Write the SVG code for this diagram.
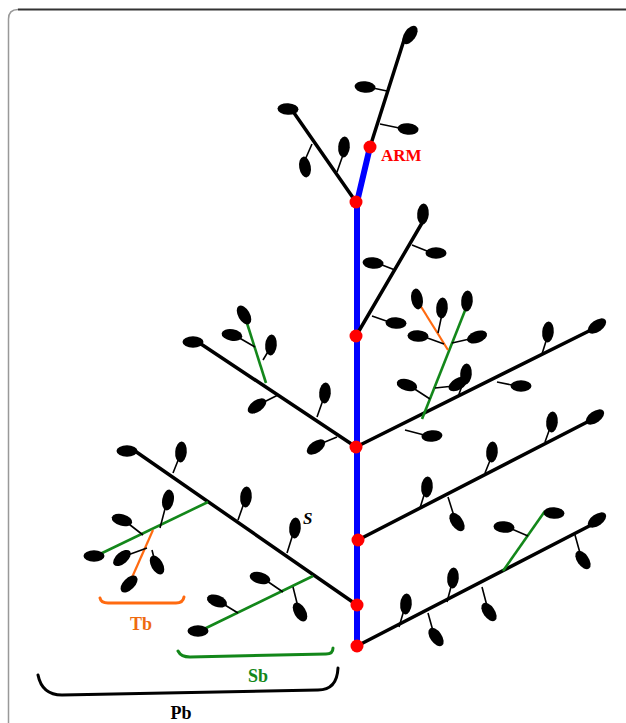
<svg xmlns="http://www.w3.org/2000/svg" width="626" height="723" viewBox="0 0 626 723">
<style>
.br{stroke:#000;stroke-width:3.5;fill:none;stroke-linecap:round}
.tw{stroke:#000;stroke-width:1.6;fill:none}
.gr{stroke:#13871a;stroke-width:2.6;fill:none}
.or{stroke:#ff6a10;stroke-width:2.2;fill:none}
.ax{stroke:#0000ff;stroke-width:6;fill:none}
.lf{fill:#000}
.dot{fill:#ff0000}
.lbl{font-family:"Liberation Serif",serif;font-weight:bold}
.brk{fill:none;stroke-width:3;stroke-linecap:round}
</style>
<defs>
<ellipse id="L" cx="0" cy="0" rx="10.5" ry="5.8"/>
</defs>
<path d="M8.5,723 V19 Q8.5,9.5 18,9.5" fill="none" stroke="#999" stroke-width="1.5"/>
<path d="M18,9.5 H626" fill="none" stroke="#333" stroke-width="1.8"/>

<g id="connectors">
<path class="ax" d="M357,646 V202 L370,147"/>
<path class="br" d="M370,147 L404,40"/>
<path class="tw" d="M387,91 L368,87 M380,124 L404,129"/>
<path class="br" d="M356,202 L292,110"/>
<path class="tw" d="M312,144 L305,160 M337,172 L344,152"/>
<path class="br" d="M356,336 L422,223"/>
<path class="tw" d="M412,245 L432,253 M395,270 L377,263 M372,316 L392,323"/>
<path class="br" d="M356,447 L597,327"/>
<path class="tw" d="M542,354 L547,338 M497,382 L517,386 M458,397 L464,380 M405,430 L428,436"/>
<path class="gr" d="M422,419 L466,308"/>
<path class="tw" d="M430,399 L410,386 M435,388 L454,386 M452,343 L474,338"/>
<path class="or" d="M448,350 L420,305"/>
<path class="tw" d="M438,333 L442,314 M444,344 L422,336"/>
<path class="br" d="M356,447 L198,342"/>
<path class="tw" d="M317,417 L323,400 M337,437 L320,444 M278,395 L262,403"/>
<path class="gr" d="M266,383 L246,320"/>
<path class="tw" d="M255,347 L236,336 M263,360 L269,350"/>
<path class="br" d="M358,540 L595,418"/>
<path class="tw" d="M545,442 L550,428 M485,473 L491,458 M420,508 L425,492 M448,497 L454,516"/>
<path class="br" d="M357,646 L597,522"/>
<path class="tw" d="M575,535 L580,553 M482,587 L487,606 M447,602 L452,583 M399,627 L404,610 M428,613 L433,631"/>
<path class="gr" d="M503,571 L545,511"/>
<path class="tw" d="M528,536 L507,527"/>
<path class="br" d="M357,605 L135,451"/>
<path class="tw" d="M173,473 L179,458 M238,520 L244,503 M287,553 L293,534"/>
<path class="gr" d="M208,502 L98,555"/>
<path class="tw" d="M160,528 L166,505 M143,535 L125,521"/>
<path class="or" d="M153,530 L130,582"/>
<path class="tw" d="M147,548 L125,556 M152,550 L155,562"/>
<path class="gr" d="M313,576 L202,630"/>
<path class="tw" d="M283,592 L264,579 M293,587 L298,607 M238,613 L220,602"/>
</g>

<g id="leaves">
<use href="#L" transform="translate(410,35) rotate(-55)"/>
<use href="#L" transform="translate(365,87) rotate(5)"/>
<use href="#L" transform="translate(408,129) rotate(5)"/>
<use href="#L" transform="translate(288,109) rotate(3)"/>
<use href="#L" transform="translate(305,167) rotate(80)"/>
<use href="#L" transform="translate(344,147) rotate(95)"/>
<use href="#L" transform="translate(423,214) rotate(-85)"/>
<use href="#L" transform="translate(436,253) rotate(0)"/>
<use href="#L" transform="translate(373,263) rotate(5)"/>
<use href="#L" transform="translate(396,323) rotate(3)"/>
<use href="#L" transform="translate(597,326) rotate(-35)"/>
<use href="#L" transform="translate(548,332) rotate(-85)"/>
<use href="#L" transform="translate(521,386) rotate(0)"/>
<use href="#L" transform="translate(466,374) rotate(-85)"/>
<use href="#L" transform="translate(432,436) rotate(-5)"/>
<use href="#L" transform="translate(467,301) rotate(-85)"/>
<use href="#L" transform="translate(407,385) rotate(15)"/>
<use href="#L" transform="translate(458,384) rotate(-30)"/>
<use href="#L" transform="translate(477,337) rotate(-20)"/>
<use href="#L" transform="translate(417,299) rotate(80)"/>
<use href="#L" transform="translate(442,308) rotate(-85)"/>
<use href="#L" transform="translate(418,336) rotate(3)"/>
<use href="#L" transform="translate(193,342) rotate(0)"/>
<use href="#L" transform="translate(325,393) rotate(-85)"/>
<use href="#L" transform="translate(316,447) rotate(-35)"/>
<use href="#L" transform="translate(257,406) rotate(-35)"/>
<use href="#L" transform="translate(244,315) rotate(60)"/>
<use href="#L" transform="translate(232,335) rotate(10)"/>
<use href="#L" transform="translate(271,345) rotate(-85)"/>
<use href="#L" transform="translate(595,417) rotate(-35)"/>
<use href="#L" transform="translate(552,422) rotate(-85)"/>
<use href="#L" transform="translate(492,452) rotate(-85)"/>
<use href="#L" transform="translate(427,487) rotate(-85)"/>
<use href="#L" transform="translate(457,522) rotate(55)"/>
<use href="#L" transform="translate(597,520) rotate(-35)"/>
<use href="#L" transform="translate(583,560) rotate(55)"/>
<use href="#L" transform="translate(489,612) rotate(55)"/>
<use href="#L" transform="translate(453,578) rotate(-85)"/>
<use href="#L" transform="translate(406,604) rotate(-85)"/>
<use href="#L" transform="translate(436,637) rotate(55)"/>
<use href="#L" transform="translate(554,513) rotate(3)"/>
<use href="#L" transform="translate(504,527) rotate(5)"/>
<use href="#L" transform="translate(127,451) rotate(0)"/>
<use href="#L" transform="translate(181,452) rotate(-85)"/>
<use href="#L" transform="translate(246,497) rotate(-85)"/>
<use href="#L" transform="translate(295,528) rotate(-85)"/>
<use href="#L" transform="translate(94,556) rotate(0)"/>
<use href="#L" transform="translate(168,500) rotate(-80)"/>
<use href="#L" transform="translate(122,520) rotate(15)"/>
<use href="#L" transform="translate(129,584) rotate(-45)"/>
<use href="#L" transform="translate(122,558) rotate(-40)"/>
<use href="#L" transform="translate(157,565) rotate(60)"/>
<use href="#L" transform="translate(198,631) rotate(0)"/>
<use href="#L" transform="translate(260,578) rotate(15)"/>
<use href="#L" transform="translate(300,612) rotate(60)"/>
<use href="#L" transform="translate(217,601) rotate(20)"/>
</g>

<g id="nodes">
<g id="n-arm"><circle class="dot" cx="370" cy="147" r="6.5"/></g>
<g id="n1"><circle class="dot" cx="356" cy="202" r="6.5"/></g>
<g id="n2"><circle class="dot" cx="356" cy="336" r="6.5"/></g>
<g id="n3"><circle class="dot" cx="356" cy="447" r="6.5"/></g>
<g id="n4"><circle class="dot" cx="358" cy="540" r="6.5"/></g>
<g id="n5"><circle class="dot" cx="357" cy="605" r="6.5"/></g>
<g id="n6"><circle class="dot" cx="357" cy="646" r="6.5"/></g>
</g>

<g id="labels">
<text class="lbl" x="381" y="161" font-size="17" fill="#ff0000">ARM</text>
<text x="303" y="524" font-family="Liberation Serif,serif" font-style="italic" font-weight="bold" font-size="17" fill="#000">S</text>
<path class="brk" stroke="#ff6a10" d="M100,598 Q101,603 108,603 H176 Q183,603 184,597"/>
<text class="lbl" x="141" y="630" font-size="18" fill="#ee6a10" text-anchor="middle">Tb</text>
<path class="brk" stroke="#13871a" d="M178,651 Q181,657 190,657 L326,654 Q333,654 333,648"/>
<text class="lbl" x="258" y="682" font-size="18" fill="#13871a" text-anchor="middle">Sb</text>
<path class="brk" stroke="#000" d="M38,675 Q42,695 62,695 L318,690 Q337,690 338,668"/>
<text class="lbl" x="181" y="719" font-size="18" fill="#000" text-anchor="middle">Pb</text>
</g>
</svg>
